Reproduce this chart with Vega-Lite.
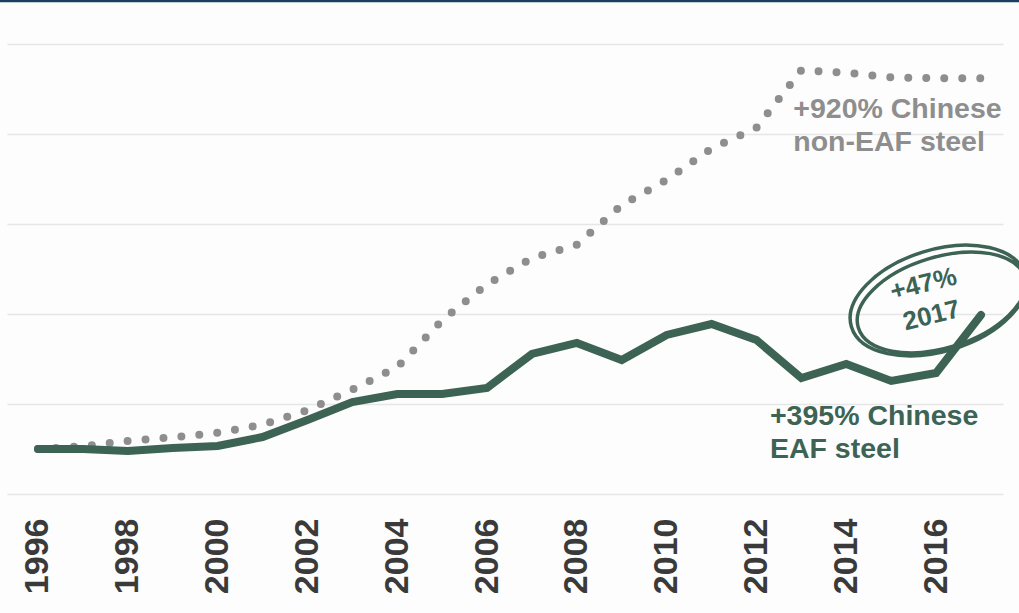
{
  "$schema": "https://vega.github.io/schema/vega-lite/v6.json",
  "width": 996,
  "height": 450,
  "autosize": {"type": "none"},
  "padding": {"left": 7, "top": 44, "right": 16, "bottom": 119},
  "background": "#fdfdfd",
  "config": {
    "view": {"stroke": null},
    "font": "Liberation Sans"
  },
  "datasets": {
    "steel": [
      {"year": 1996, "series": "eaf", "value": 50},
      {"year": 1997, "series": "eaf", "value": 50},
      {"year": 1998, "series": "eaf", "value": 47.8},
      {"year": 1999, "series": "eaf", "value": 51.1},
      {"year": 2000, "series": "eaf", "value": 53.3},
      {"year": 2001, "series": "eaf", "value": 63.3},
      {"year": 2002, "series": "eaf", "value": 82.2},
      {"year": 2003, "series": "eaf", "value": 102.2},
      {"year": 2004, "series": "eaf", "value": 111.1},
      {"year": 2005, "series": "eaf", "value": 111.1},
      {"year": 2006, "series": "eaf", "value": 117.8},
      {"year": 2007, "series": "eaf", "value": 155.6},
      {"year": 2008, "series": "eaf", "value": 167.8},
      {"year": 2009, "series": "eaf", "value": 148.9},
      {"year": 2010, "series": "eaf", "value": 176.7},
      {"year": 2011, "series": "eaf", "value": 188.9},
      {"year": 2012, "series": "eaf", "value": 171.1},
      {"year": 2013, "series": "eaf", "value": 128.9},
      {"year": 2014, "series": "eaf", "value": 144.4},
      {"year": 2015, "series": "eaf", "value": 125.6},
      {"year": 2016, "series": "eaf", "value": 134.4},
      {"year": 2017, "series": "eaf", "value": 198.9},
      {"year": 1996, "series": "non-eaf", "value": 50},
      {"year": 1997, "series": "non-eaf", "value": 53},
      {"year": 1998, "series": "non-eaf", "value": 59},
      {"year": 1999, "series": "non-eaf", "value": 63},
      {"year": 2000, "series": "non-eaf", "value": 68},
      {"year": 2001, "series": "non-eaf", "value": 77},
      {"year": 2002, "series": "non-eaf", "value": 93},
      {"year": 2003, "series": "non-eaf", "value": 116},
      {"year": 2004, "series": "non-eaf", "value": 141},
      {"year": 2005, "series": "non-eaf", "value": 193},
      {"year": 2006, "series": "non-eaf", "value": 233},
      {"year": 2007, "series": "non-eaf", "value": 262},
      {"year": 2008, "series": "non-eaf", "value": 277},
      {"year": 2009, "series": "non-eaf", "value": 321},
      {"year": 2010, "series": "non-eaf", "value": 349},
      {"year": 2011, "series": "non-eaf", "value": 384},
      {"year": 2012, "series": "non-eaf", "value": 407},
      {"year": 2013, "series": "non-eaf", "value": 471},
      {"year": 2014, "series": "non-eaf", "value": 468},
      {"year": 2015, "series": "non-eaf", "value": 463},
      {"year": 2016, "series": "non-eaf", "value": 462},
      {"year": 2017, "series": "non-eaf", "value": 462}
    ],
    "labels": [
      {"year": 2012.82, "value": 417.8, "series": "non-eaf", "text": ["+920% Chinese", "non-EAF steel"]},
      {"year": 2012.3, "value": 76.7, "series": "eaf", "text": ["+395% Chinese", "EAF steel"]}
    ],
    "callout": [
      {"year": 2015.72, "value": 233, "text": "+47%"},
      {"year": 2015.9, "value": 198, "text": "2017"}
    ],
    "ring": [
      {"year": 2016.05, "value": 215}
    ],
    "topBar": [
      {"from": 1995.15, "to": 2017.86, "level": 548}
    ]
  },
  "layer": [
    {
      "data": {"name": "steel"},
      "transform": [{"filter": "datum.series === 'non-eaf'"}],
      "mark": {"type": "line", "color": "#8e8e8e", "strokeWidth": 8, "strokeCap": "round", "strokeDash": [0, 18]},
      "encoding": {
        "x": {
          "field": "year", "type": "quantitative",
          "scale": {"domain": [1995.31, 2017.49], "nice": false, "zero": false},
          "axis": {
            "values": [1996, 1998, 2000, 2002, 2004, 2006, 2008, 2010, 2012, 2014, 2016],
            "format": "d", "title": null, "domain": false, "ticks": false, "grid": false,
            "labelAngle": -90, "labelPadding": 24, "labelFont": "Liberation Sans",
            "labelFontSize": 34, "labelFontWeight": "bold", "labelColor": "#3a3a3a",
            "labelOverlap": false, "labelFlush": false
          }
        },
        "y": {
          "field": "value", "type": "quantitative",
          "scale": {"domain": [0, 500], "nice": false},
          "axis": {
            "values": [0, 100, 200, 300, 400, 500],
            "title": null, "labels": false, "ticks": false, "domain": false,
            "grid": true, "gridColor": "#e6e6e6", "gridWidth": 1.5
          }
        }
      }
    },
    {
      "data": {"name": "steel"},
      "transform": [{"filter": "datum.series === 'eaf'"}],
      "mark": {"type": "line", "color": "#3d6355", "strokeWidth": 8, "strokeCap": "round", "strokeJoin": "miter"},
      "encoding": {
        "x": {"field": "year", "type": "quantitative"},
        "y": {"field": "value", "type": "quantitative"}
      }
    },
    {
      "data": {"name": "labels"},
      "mark": {"type": "text", "align": "left", "baseline": "alphabetic", "fontSize": 28.5, "fontWeight": "bold", "lineHeight": 33},
      "encoding": {
        "x": {"field": "year", "type": "quantitative"},
        "y": {"field": "value", "type": "quantitative"},
        "text": {"field": "text"},
        "color": {
          "field": "series", "type": "nominal",
          "scale": {"domain": ["eaf", "non-eaf"], "range": ["#3d6355", "#8e8e8e"]},
          "legend": null
        }
      }
    },
    {
      "data": {"name": "ring"},
      "mark": {
        "type": "point", "filled": false, "color": "#3d6355", "strokeWidth": 3.5, "opacity": 1,
        "angle": -17, "size": 33000,
        "shape": "M 1 0 C 1 0.309 0.552 0.56 0 0.56 C -0.552 0.56 -1 0.309 -1 0 C -1 -0.309 -0.552 -0.56 0 -0.56 C 0.552 -0.56 1 -0.309 1 0.02 C 0.97 0.306 0.545 0.53 0.02 0.53 C -0.505 0.53 -0.93 0.306 -0.93 0.03 C -0.93 -0.246 -0.505 -0.47 0.02 -0.47 C 0.545 -0.47 0.98 -0.26 0.99 0.05"
      },
      "encoding": {
        "x": {"field": "year", "type": "quantitative"},
        "y": {"field": "value", "type": "quantitative"}
      }
    },
    {
      "data": {"name": "callout"},
      "mark": {"type": "text", "align": "center", "baseline": "middle", "fontSize": 26, "fontWeight": "bold", "color": "#3d6355", "angle": -14},
      "encoding": {
        "x": {"field": "year", "type": "quantitative"},
        "y": {"field": "value", "type": "quantitative"},
        "text": {"field": "text"}
      }
    },
    {
      "data": {"name": "topBar"},
      "mark": {"type": "rule", "color": "#1d3f5e", "strokeWidth": 3, "clip": false},
      "encoding": {
        "x": {"field": "from", "type": "quantitative"},
        "x2": {"field": "to"},
        "y": {"field": "level", "type": "quantitative"}
      }
    }
  ]
}
